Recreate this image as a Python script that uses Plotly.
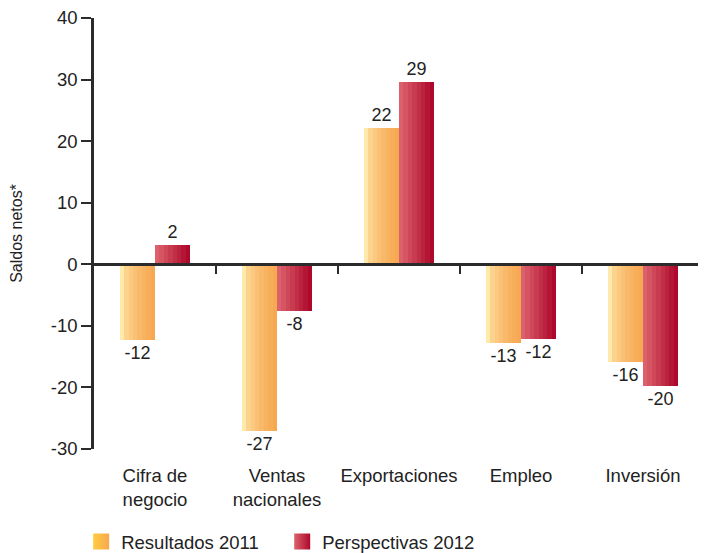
import plotly.graph_objects as go

# data
categories = ["Cifra de<br>negocio", "Ventas<br>nacionales", "Exportaciones", "Empleo", "Inversión"]
resultados_2011 = [-12.3, -27.0, 22.2, -12.8, -15.8]
perspectivas_2012 = [3.2, -7.6, 29.6, -12.2, -19.8]
labels_2011 = ["-12", "-27", "22", "-13", "-16"]
labels_2012 = ["2", "-8", "29", "-12", "-20"]
y_tickvals = [-30, -20, -10, 0, 10, 20, 30, 40]
y_ticktext = ["-30", "-20", "-10", "0", "10", "20", "30", "40"]

FONT = "Liberation Sans, Arial, Helvetica, sans-serif"
TEXT = "#222222"
AXIS = "#2b2b2b"
BAR_W = 0.287
N_STRIPS = 8

series = [
    {"name": "Resultados 2011", "y": resultados_2011, "text": labels_2011, "start": -BAR_W,
     "left": (255, 234, 172), "right": (247, 168, 82), "ease": 0.55,
     "leg_left": "rgb(255,204,60)", "leg_right": "rgb(247,168,82)"},
    {"name": "Perspectivas 2012", "y": perspectivas_2012, "text": labels_2012, "start": 0.0,
     "left": (219, 98, 108), "right": (174, 8, 44), "ease": 1.0,
     "leg_left": "rgb(219,98,108)", "leg_right": "rgb(174,8,44)"},
]


def blend(c1, c2, t):
    return "rgb(%d,%d,%d)" % tuple(round(a + (b - a) * t) for a, b in zip(c1, c2))


xs = list(range(len(categories)))
fig = go.Figure()

for s in series:
    # horizontal gradient faked with narrow side-by-side strips
    step = BAR_W / N_STRIPS
    for i in range(N_STRIPS):
        t = (i / (N_STRIPS - 1)) ** s["ease"]
        fig.add_trace(go.Bar(
            x=xs, y=s["y"], width=step * 1.02, offset=s["start"] + i * step,
            marker=dict(color=blend(s["left"], s["right"], t), line=dict(width=0)),
            showlegend=False, hoverinfo="skip",
        ))
    # value labels
    fig.add_trace(go.Bar(
        x=xs, y=s["y"], width=BAR_W, offset=s["start"],
        text=s["text"], textposition="outside", cliponaxis=False,
        textfont=dict(size=18, color=TEXT, family=FONT),
        marker=dict(color="rgba(0,0,0,0)", line=dict(width=0)),
        showlegend=False, hoverinfo="skip",
    ))
    # legend entry
    fig.add_trace(go.Scatter(
        x=[None], y=[None], mode="markers", name=s["name"],
        marker=dict(symbol="square", size=18, color=s["leg_left"],
                    gradient=dict(type="horizontal", color=s["leg_right"]),
                    line=dict(width=0)),
    ))

y_min, y_max = -30, 40

# the page body keeps its default 8px margin, so the figure is 8px smaller
fig.update_layout(
    width=698, height=545,
    margin=dict(l=86, r=2, t=10, b=104, autoexpand=False),
    paper_bgcolor="white", plot_bgcolor="white",
    font=dict(family=FONT, size=18, color=TEXT),
    barmode="overlay", bargap=0,
    showlegend=True,
    legend=dict(orientation="h", x=-0.021, xanchor="left", y=-0.216, yanchor="middle",
                font=dict(size=18.5, color=TEXT), entrywidth=156, entrywidthmode="pixels",
                itemclick=False, itemdoubleclick=False),
    xaxis=dict(range=[-0.5, len(categories) - 0.5], tickvals=xs, ticktext=categories,
               showgrid=False, zeroline=False, showline=False, ticks="", automargin=False,
               ticklabelstandoff=13, tickfont=dict(size=18.5, color=TEXT)),
    # axis used only for the zero line and the little separators between groups
    xaxis2=dict(range=[-0.5, len(categories) - 0.5], overlaying="x", anchor="free",
                position=(0 - y_min) / (y_max - y_min), type="linear", automargin=False,
                showline=True, linecolor=AXIS, linewidth=2.5,
                ticks="outside", ticklen=8, tickwidth=1.5, tickcolor=AXIS,
                tickvals=[x + 0.5 for x in xs[:-1]], showticklabels=False,
                showgrid=False, zeroline=False),
    yaxis=dict(range=[y_min, y_max], tickvals=y_tickvals, ticktext=y_ticktext,
               showgrid=False, zeroline=False, showline=True, linecolor=AXIS, linewidth=2.5,
               ticks="outside", ticklen=10, tickwidth=1.5, tickcolor=AXIS, automargin=False,
               ticklabeloverflow="allow",
               tickfont=dict(size=18.5, color=TEXT),
               title=dict(text="Saldos netos*", standoff=28, font=dict(size=16, color=TEXT))),
)

# dummy trace so xaxis2 is drawn
fig.add_trace(go.Scatter(x=[None], y=[None], xaxis="x2", showlegend=False, hoverinfo="skip"))

fig.write_html("out.html")
